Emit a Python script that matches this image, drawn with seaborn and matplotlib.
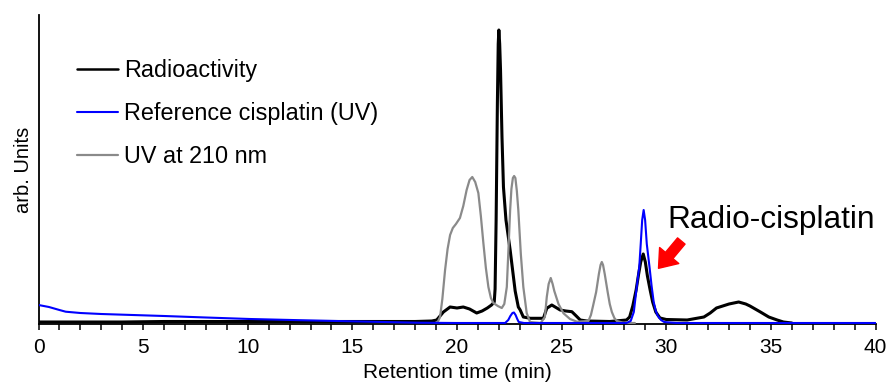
import matplotlib
matplotlib.use("Agg")
import matplotlib.pyplot as plt
import seaborn as sns
import pandas as pd
from matplotlib.lines import Line2D

# ---- data ----
t_rad = [0, 2, 4, 6, 8, 10, 12, 14, 16, 18, 18.8, 19.03, 19.35, 19.67, 20.0, 20.3,
         20.6, 20.94, 21.2, 21.45, 21.65, 21.78, 21.82, 21.87, 21.93, 21.97, 22.0,
         22.04, 22.08, 22.15, 22.22, 22.34, 22.54, 22.78, 22.93, 23.02, 23.17, 23.5,
         24.13, 24.29, 24.53, 24.93, 25.2, 25.49, 25.7, 25.89, 26.2, 27.3, 28.1, 28.25,
         28.4, 28.56, 28.68, 28.78, 28.9, 29.0, 29.1, 29.23, 29.35, 29.5, 29.7, 30.0,
         31.0, 31.8, 32.1, 32.4, 32.7, 33.0, 33.46, 33.8, 34.0, 34.25, 34.5, 34.9,
         35.3, 35.6, 36.0]
h_rad = [2, 2, 2, 2.5, 2.5, 2.5, 2.5, 2.5, 2.5, 2.5, 3, 4, 12, 17, 16, 17,
         15, 11, 13, 16, 19, 22, 35, 104, 221, 280, 294,
         280, 254, 187, 137, 104, 74, 33, 17, 14, 7, 5.7,
         5.7, 15.7, 19, 14, 13, 12.3, 8, 4, 3, 2.5, 4, 7,
         18, 34, 50, 62, 70, 62, 48, 34, 22, 12, 6, 4.5,
         4, 7, 11, 16, 18, 20, 22, 20, 18, 15, 12, 7,
         4, 2, 1]

t_ref = [0, 0.5, 1.0, 1.3, 2.0, 3.0, 4.5, 6.0, 8.0, 10.1, 12.5, 14.9, 18.1, 20.0,
         22.3, 22.45, 22.55, 22.65, 22.72, 22.8, 22.88, 22.95, 23.2, 28.1, 28.3,
         28.45, 28.55, 28.63, 28.71, 28.78, 28.85, 28.92, 28.99, 29.07, 29.2, 29.3,
         29.4, 29.5, 29.6, 29.75, 29.9, 30.5, 40.0]
h_ref = [19, 17, 14, 12.3, 11, 10, 9, 8, 6.5, 5, 3.8, 2.7, 1.3, 1,
         1, 4, 8, 11, 11.5, 9, 5, 2, 1, 1, 3,
         12, 30, 44, 57, 80, 104, 114, 104, 80, 57, 38,
         22, 13, 8, 4, 2, 1, 1]

t_uv = [19.0, 19.1, 19.19, 19.3, 19.43, 19.55, 19.67, 19.8, 19.95, 20.14, 20.3,
        20.46, 20.6, 20.73, 20.87, 21.02, 21.14, 21.26, 21.38, 21.5, 21.62, 21.74,
        21.95, 22.14, 22.26, 22.38, 22.46, 22.54, 22.6, 22.67, 22.73, 22.79, 22.86,
        22.93, 23.05, 23.17, 23.33, 23.49, 24.0, 24.2, 24.29, 24.38, 24.48, 24.57,
        24.65, 24.85, 25.09, 25.4, 25.73, 26.28, 26.4, 26.5, 26.65, 26.78, 26.86,
        26.92, 26.98, 27.06, 27.2, 27.3, 27.4, 27.52, 27.64, 28.0, 28.5]
h_uv = [1, 3, 7, 25, 54, 75, 89, 96, 100, 106, 118,
        134, 144, 147, 142, 131, 108, 81, 56, 37, 26, 21,
        18, 16, 20, 37, 75, 114, 135, 146, 148, 146, 133,
        114, 70, 37, 11, 2, 1, 7, 27, 40, 46, 40,
        33, 20, 10.7, 5, 2.3, 3, 9, 18, 32, 50, 59,
        62, 59, 50, 32, 20, 12, 6, 3, 1, 1]

labels = ["Radioactivity", "Reference cisplatin (UV)", "UV at 210 nm"]
colors = ["#000000", "#0000FF", "#8A8A8A"]
xticks = [0, 5, 10, 15, 20, 25, 30, 35, 40]

df_rad = pd.DataFrame({"t": t_rad, "h": h_rad})
df_ref = pd.DataFrame({"t": t_ref, "h": h_ref})
df_uv = pd.DataFrame({"t": t_uv, "h": h_uv})

sns.set_theme(style="ticks")
plt.rcParams["font.family"] = ["Liberation Sans", "DejaVu Sans"]
plt.rcParams["text.color"] = "black"
plt.rcParams["axes.labelcolor"] = "black"
plt.rcParams["xtick.color"] = "black"
plt.rcParams["ytick.color"] = "black"

fig = plt.figure(figsize=(8.91, 3.90), dpi=100)
ax = fig.add_axes([38.5 / 891, 66 / 390, 837 / 891, 309 / 390])

sns.lineplot(data=df_rad, x="t", y="h", ax=ax, color=colors[0], lw=2.2,
             sort=False, estimator=None, zorder=2)
sns.lineplot(data=df_uv, x="t", y="h", ax=ax, color=colors[2], lw=1.6,
             sort=False, estimator=None, zorder=3)
sns.lineplot(data=df_ref, x="t", y="h", ax=ax, color=colors[1], lw=1.5,
             sort=False, estimator=None, zorder=4)

ax.set_xlim(0, 40)
ax.set_ylim(0, 309)
ax.set_xticks(xticks)
ax.set_xticks(range(0, 41), minor=True)
ax.set_xticklabels([str(v) for v in xticks], fontsize=15, color="black")
ax.tick_params(axis="x", which="both", direction="out", length=4, width=1.1,
               color="black", labelcolor="black", pad=6)
ax.set_yticks([])
for s in ["top", "right"]:
    ax.spines[s].set_visible(False)
for s in ["left", "bottom"]:
    ax.spines[s].set_color("black")
    ax.spines[s].set_linewidth(1.3)

ax.set_xlabel("Retention time (min)", fontsize=15, labelpad=4.5, color="black")
ax.set_ylabel("arb. Units", fontsize=14.5, labelpad=4, color="black")

handles = [Line2D([], [], color=colors[0], lw=1.8),
           Line2D([], [], color=colors[1], lw=1.5),
           Line2D([], [], color=colors[2], lw=1.6)]
leg = fig.legend(handles, labels, loc="upper left",
                 bbox_to_anchor=(77 / 891, 1 - 59 / 390), frameon=False,
                 fontsize=16.8, handlelength=1.75, handletextpad=0.28,
                 labelspacing=0.86, borderpad=0, borderaxespad=0)
for txt in leg.get_texts():
    txt.set_color("black")

ax.text(30.05, 96, "Radio-cisplatin", fontsize=22.8, color="black",
        ha="left", va="baseline")
ax.annotate("", xy=(29.63, 55.7), xytext=(30.72, 83),
            arrowprops=dict(facecolor="red", edgecolor="red", width=7,
                            headwidth=18, headlength=12, shrink=0))

fig.savefig("out.png", dpi=100)
